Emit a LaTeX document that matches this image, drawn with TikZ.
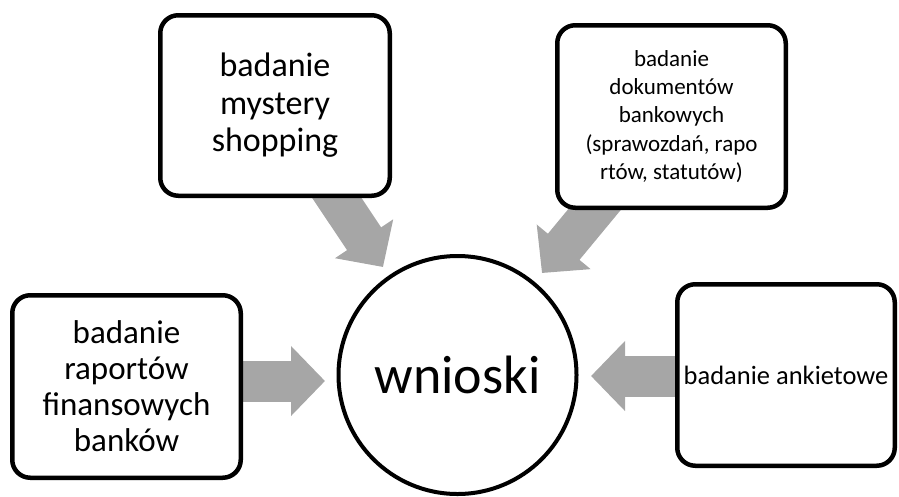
\documentclass[tikz,border=0pt]{standalone}
\usepackage{fontspec}
\setmainfont{Carlito}
\usetikzlibrary{arrows.meta}
\pgfdeclarelayer{bg}
\pgfsetlayers{bg,main}
\definecolor{arrowgray}{RGB}{166,166,166}
\tikzset{
  srcbox/.style={draw=black, line width=4.5pt, rounded corners=18pt, fill=white,
    inner sep=0pt, align=center},
  hub/.style={draw=black, line width=4pt, circle, fill=white, inner sep=0pt,
    minimum size=238pt},
  bigarrow/.style={draw=arrowgray, line width=41pt,
    -{Triangle[length=34pt, width=68pt, fill=arrowgray]}},
}
\begin{document}
\begin{tikzpicture}[x=1pt, y=-1pt]
  \useasboundingbox (0,0) rectangle (899,496);

  % central circle
  \node[hub, font=\fontsize{54}{60}\selectfont] (W) at (457.5,375) {wnioski};

  % source boxes
  \node[srcbox, minimum width=229.5pt, minimum height=180.5pt,
    font=\fontsize{34}{37.5}\selectfont] (A) at (275,105.5)
    {badanie\\mystery\\shopping};
  \node[srcbox, minimum width=228.5pt, minimum height=182.5pt,
    font=\fontsize{23}{28.3}\selectfont] (B) at (671.5,116.5)
    {badanie\\dokumentów\\bankowych\\(sprawozdań, rapo\\rtów, statutów)};
  \node[srcbox, minimum width=228.5pt, minimum height=182.5pt,
    font=\fontsize{33}{36}\selectfont] (C) at (126.5,386.5)
    {badanie\\raportów\\finansowych\\banków};
  \node[srcbox, minimum width=217.5pt, minimum height=181.5pt,
    font=\fontsize{26.5}{30}\selectfont] (D) at (786,375)
    {badanie ankietowe};

  % arrow tips next to the circle
  \coordinate (tA) at (383,267);
  \coordinate (tB) at (542,273);
  \coordinate (tC) at (325,381);
  \coordinate (tD) at (591,376);

  % block arrows, drawn underneath the boxes
  \begin{pgfonlayer}{bg}
    \draw[bigarrow] (A.center) -- (tA);
    \draw[bigarrow] (B.center) -- (tB);
    \draw[bigarrow] (C.center |- tC) -- (tC);
    \draw[bigarrow] (D.center |- tD) -- (tD);
  \end{pgfonlayer}
\end{tikzpicture}
\end{document}
